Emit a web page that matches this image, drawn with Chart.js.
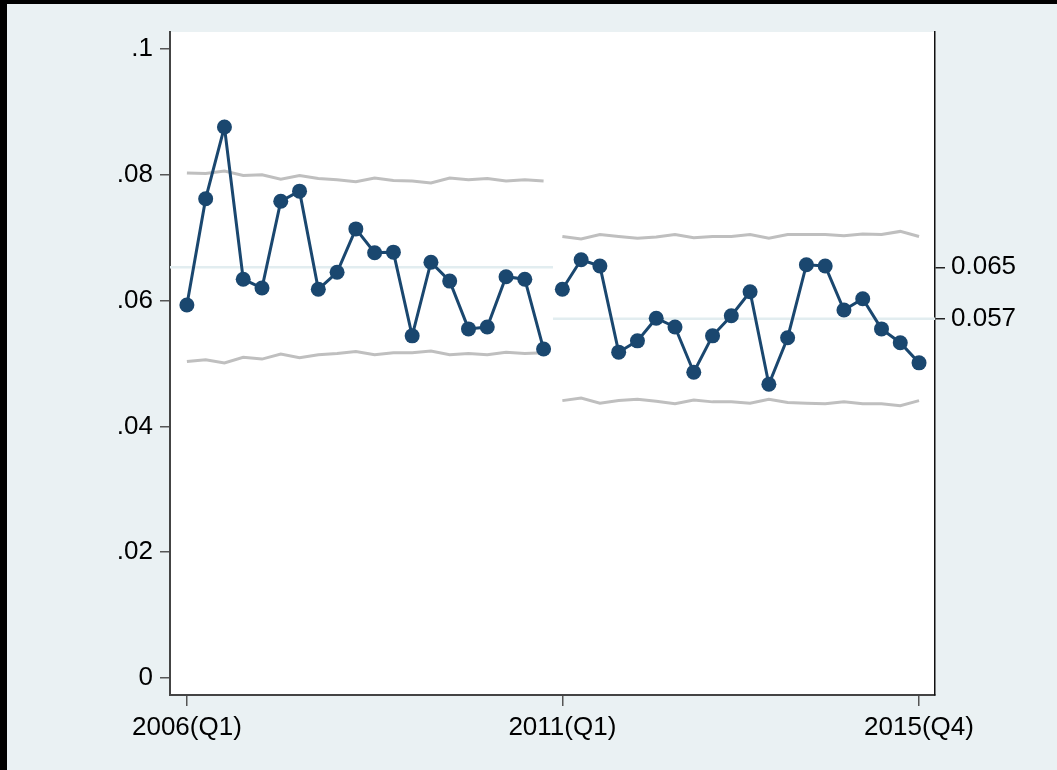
<!DOCTYPE html>
<html>
<head>
<meta charset="utf-8">
<script src="https://cdn.jsdelivr.net/npm/chart.js@4/dist/chart.umd.min.js"></script>
<style>
  html, body { margin: 0; padding: 0; background: #000; }
  #wrap { position: absolute; left: 7px; top: 4px; width: 1050px; height: 766px; background: #eaf1f3; }
</style>
</head>
<body>
<div id="wrap"><canvas id="myChart" width="1050" height="766"></canvas></div>
<script>
// quarters 2006(Q1) .. 2015(Q4)
let quarters = [];
for (let yr = 2006; yr <= 2015; yr++) {
    for (let q = 1; q <= 4; q++) quarters.push(yr + '(Q' + q + ')');
}

// observed rate per quarter
let values = [
    0.0593, 0.0762, 0.0876, 0.0634, 0.0620, 0.0758, 0.0774, 0.0618, 0.0645, 0.0714,
    0.0676, 0.0677, 0.0544, 0.0661, 0.0631, 0.0555, 0.0558, 0.0638, 0.0634, 0.0523,
    0.0618, 0.0665, 0.0655, 0.0518, 0.0536, 0.0572, 0.0558, 0.0486, 0.0544, 0.0576,
    0.0614, 0.0467, 0.0541, 0.0657, 0.0655, 0.0585, 0.0603, 0.0555, 0.0533, 0.0501
];

// upper / lower control limits
let upper = [
    0.0803, 0.0802, 0.0806, 0.0799, 0.0800, 0.0793, 0.0799, 0.0794, 0.0792, 0.0789,
    0.0795, 0.0791, 0.0790, 0.0787, 0.0795, 0.0792, 0.0794, 0.0790, 0.0792, 0.0790,
    0.0702, 0.0698, 0.0705, 0.0702, 0.0699, 0.0701, 0.0705, 0.0700, 0.0702, 0.0702,
    0.0705, 0.0699, 0.0705, 0.0705, 0.0705, 0.0703, 0.0706, 0.0705, 0.0710, 0.0702
];
let lower = [
    0.0503, 0.0506, 0.0501, 0.0510, 0.0507, 0.0515, 0.0509, 0.0514, 0.0516, 0.0519,
    0.0514, 0.0517, 0.0517, 0.0520, 0.0514, 0.0516, 0.0514, 0.0518, 0.0516, 0.0517,
    0.0441, 0.0445, 0.0437, 0.0441, 0.0443, 0.0440, 0.0436, 0.0442, 0.0439, 0.0439,
    0.0437, 0.0443, 0.0438, 0.0437, 0.0436, 0.0439, 0.0436, 0.0436, 0.0433, 0.0441
];

// centre lines of the two periods
let centers = [0.0653, 0.0571];
let splitAt = 20; // first quarter of second period

// axis ticks
let yTicks = [0, 0.02, 0.04, 0.06, 0.08, 0.1];
let xTicks = [0, 20, 39];
let rightTicks = [0.0653, 0.0571];

let xMin = -0.9, xMax = 39.85;
let navy = '#1a476f';
let limitGray = '#bfbfbf';
let centerColor = '#e2edf0';

function pts(arr, from, to) {
    let out = [];
    for (let i = from; i < to; i++) out.push({ x: i, y: arr[i] });
    return out;
}

let limitStyle = { borderColor: limitGray, borderWidth: 3, pointRadius: 0, order: 2 };
let centerStyle = { borderColor: centerColor, borderWidth: 2.5, pointRadius: 0, order: 3 };
let seriesStyle = {
    borderColor: navy, backgroundColor: navy, borderWidth: 3,
    pointRadius: 7.5, pointBackgroundColor: navy, pointBorderWidth: 0, order: 1
};

let n = values.length;
let datasets = [
    Object.assign({ data: [{ x: xMin, y: centers[0] }, { x: splitAt - 0.5, y: centers[0] }] }, centerStyle),
    Object.assign({ data: [{ x: splitAt - 0.5, y: centers[1] }, { x: xMax, y: centers[1] }] }, centerStyle),
    Object.assign({ data: pts(upper, 0, splitAt) }, limitStyle),
    Object.assign({ data: pts(upper, splitAt, n) }, limitStyle),
    Object.assign({ data: pts(lower, 0, splitAt) }, limitStyle),
    Object.assign({ data: pts(lower, splitAt, n) }, limitStyle),
    Object.assign({ data: pts(values, 0, splitAt) }, seriesStyle),
    Object.assign({ data: pts(values, splitAt, n) }, seriesStyle)
];

let font = { family: "'Liberation Sans', Arial, sans-serif", size: 26 };

let ctx = document.getElementById('myChart').getContext('2d');
let chart = new Chart(ctx, {
    type: 'line',
    data: { datasets: datasets },
    plugins: [{
        id: 'plotBg',
        beforeDraw(c) {
            let a = c.chartArea;
            c.ctx.save();
            c.ctx.fillStyle = '#ffffff';
            c.ctx.fillRect(a.left, a.top, a.right - a.left, a.bottom - a.top);
            c.ctx.restore();
        }
    }],
    options: {
        responsive: false,
        animation: false,
        layout: { padding: { left: 0, top: 28, right: 0, bottom: 0 } },
        plugins: { legend: { display: false }, tooltip: { enabled: false } },
        scales: {
            x: {
                type: 'linear',
                min: xMin,
                max: xMax,
                afterBuildTicks: s => { s.ticks = xTicks.map(v => ({ value: v })); },
                afterFit: s => { s.height = 75; },
                ticks: {
                    font: font, color: '#000', padding: 6, maxRotation: 0,
                    callback: v => quarters[v]
                },
                grid: { drawOnChartArea: false, drawTicks: true, tickLength: 11, color: '#555', lineWidth: 1.5 },
                border: { display: true, color: '#444', width: 2 }
            },
            y: {
                position: 'left',
                min: -0.0027,
                max: 0.1027,
                afterBuildTicks: s => { s.ticks = yTicks.map(v => ({ value: v })); },
                afterFit: s => { s.width = 163; },
                ticks: {
                    font: font, color: '#000', padding: 7,
                    callback: v => v === 0 ? '0' : String(+v.toFixed(2)).replace(/^0/, '')
                },
                grid: { drawOnChartArea: false, drawTicks: true, tickLength: 10, color: '#555', lineWidth: 1.5 },
                border: { display: true, color: '#444', width: 2 }
            },
            y2: {
                position: 'right',
                min: -0.0027,
                max: 0.1027,
                afterBuildTicks: s => { s.ticks = rightTicks.map(v => ({ value: v })); },
                afterFit: s => { s.width = 122; },
                ticks: {
                    font: font, color: '#000', padding: 6,
                    callback: v => v.toFixed(3)
                },
                grid: { drawOnChartArea: false, drawTicks: true, tickLength: 10, color: '#222', lineWidth: 1.5 },
                border: { display: true, color: '#111', width: 1.5 }
            }
        }
    }
});
</script>
</body>
</html>
